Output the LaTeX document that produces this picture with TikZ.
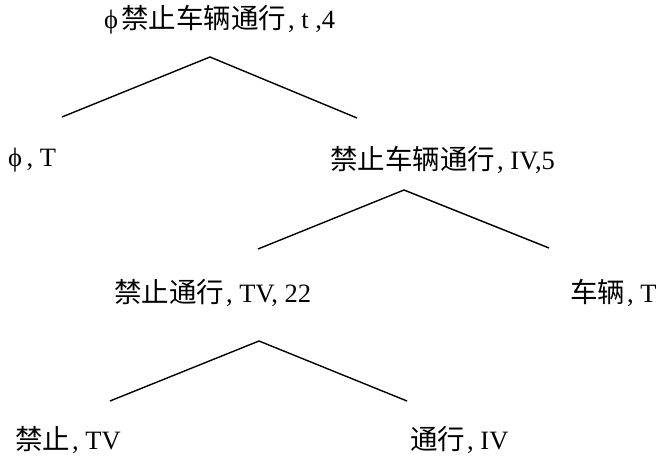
\documentclass[tikz,border=0pt]{standalone}
\usepackage{fontspec}
\setmainfont{Liberation Serif}
\newfontfamily\cjk{Noto Sans CJK SC}
\newcommand{\cj}[1]{{\fontsize{27.5}{30}\cjk #1}\kern2pt}
\begin{document}
\begin{tikzpicture}[x=1pt,y=-1pt,
  lbl/.style={inner sep=0pt,anchor=west,font=\fontsize{26.5}{30}\selectfont},
  edge/.style={line width=1.4pt,black}]
\useasboundingbox (0,0) rectangle (658,457);
% texts
\node[lbl] (n0) at (104,20) {ϕ\kern3pt\cj{禁止车辆通行}, t ,4};
\node[lbl] (n1) at (8,160) {ϕ\,, T};
\node[lbl] (n2) at (330,160) {\cj{禁止车辆通行}, IV,5};
\node[lbl] (n3) at (114,293) {\cj{禁止通行}, TV, 22};
\node[lbl] (n4) at (570,293) {\cj{车辆}, T};
\node[lbl] (n5) at (15,440) {\cj{禁止}, TV};
\node[lbl] (n6) at (410,440) {\cj{通行}, IV};
% branch points
\coordinate (a0) at (210,57);
\coordinate (l0) at (62,117);
\coordinate (r0) at (357,118);
\coordinate (a1) at (404,190);
\coordinate (l1) at (258,249);
\coordinate (r1) at (549,248);
\coordinate (a2) at (259,341);
\coordinate (l2) at (110,401);
\coordinate (r2) at (407,401);
\draw[edge] (l0) -- (a0) -- (r0);
\draw[edge] (l1) -- (a1) -- (r1);
\draw[edge] (l2) -- (a2) -- (r2);
\end{tikzpicture}
\end{document}
